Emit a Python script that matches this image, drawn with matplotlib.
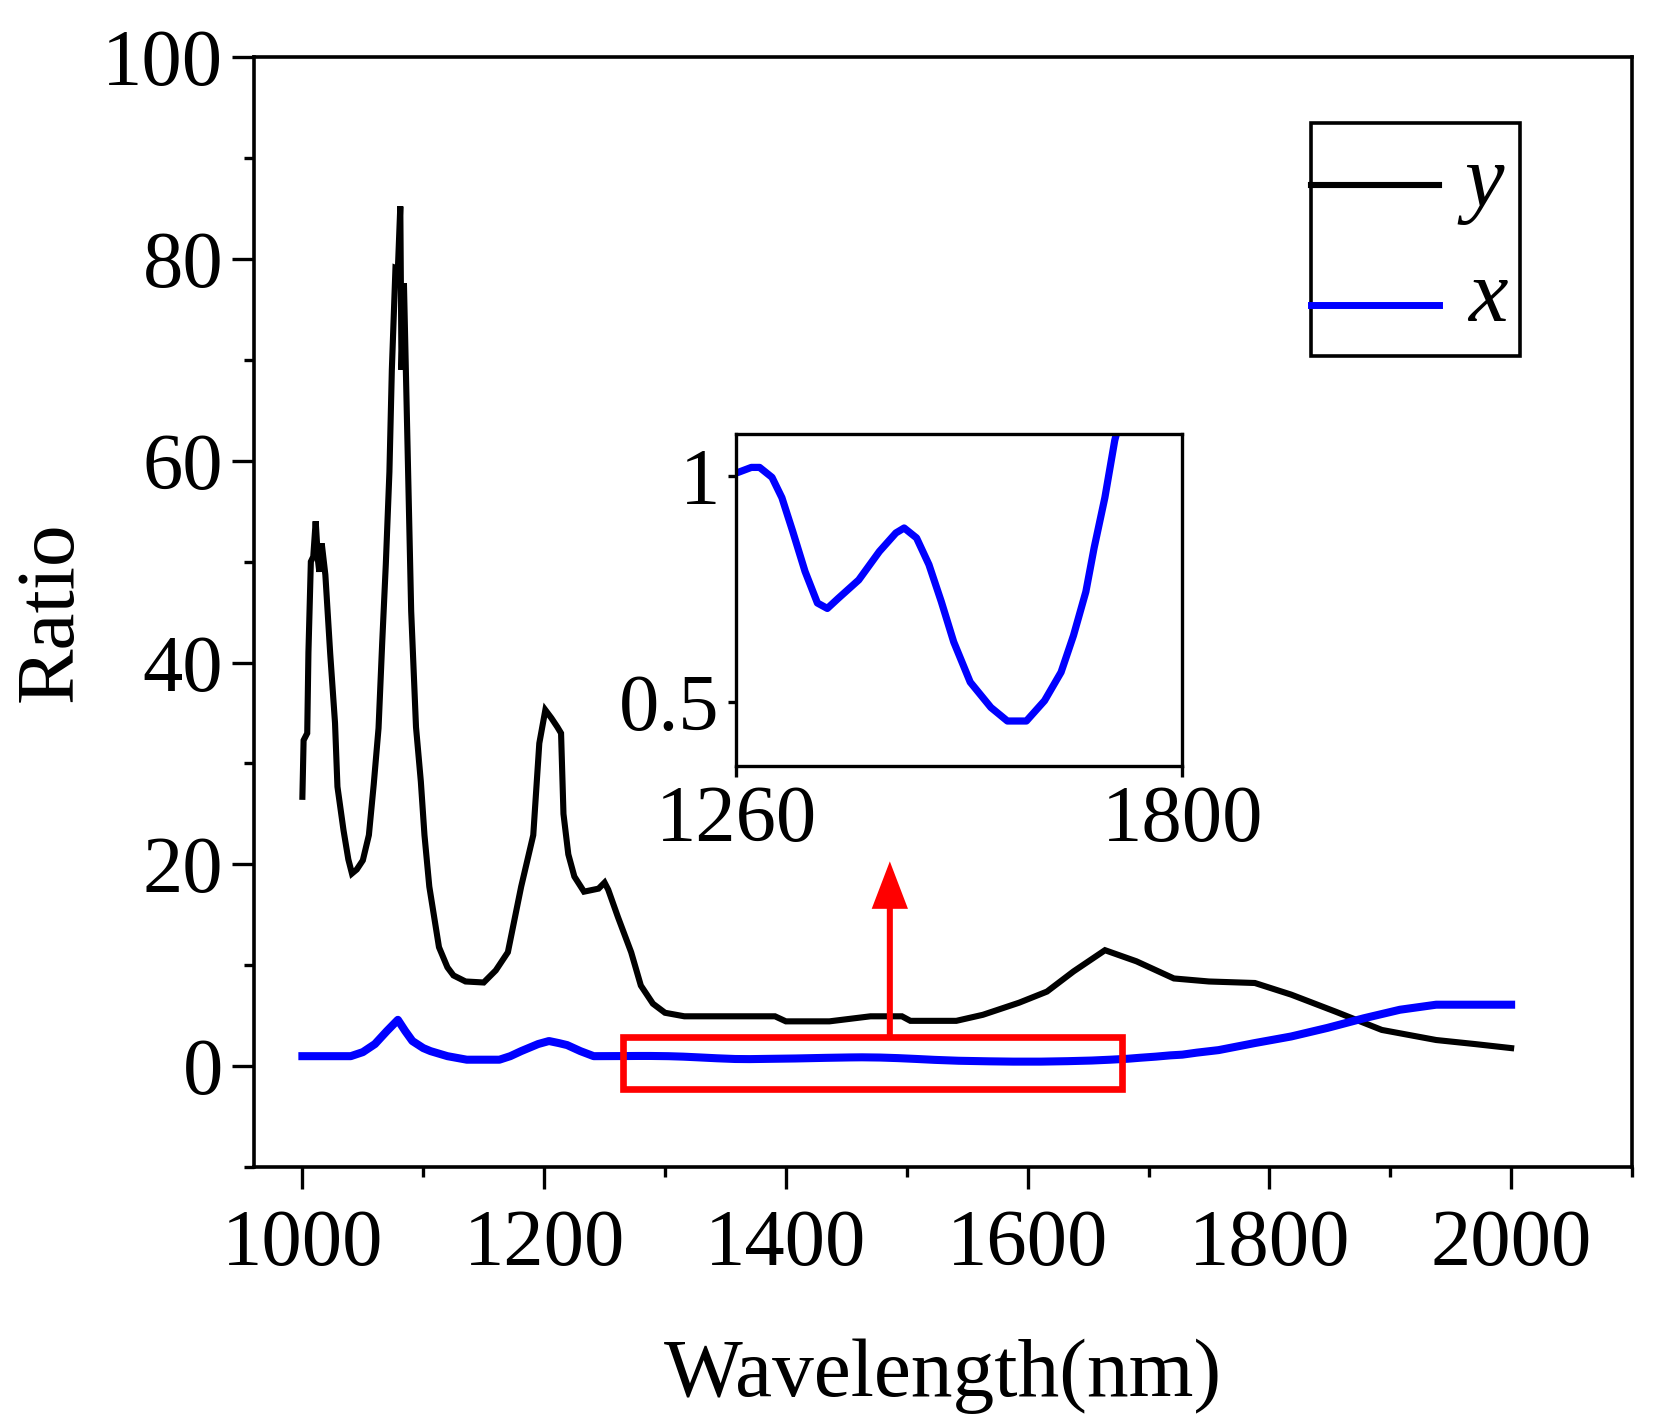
import matplotlib
matplotlib.use("Agg")
from matplotlib import pyplot as plt
from matplotlib.patches import Rectangle
from matplotlib.lines import Line2D
from matplotlib.ticker import MultipleLocator

plt.rcParams['font.family'] = ['Liberation Serif', 'DejaVu Serif']

# ratio y (black curve)
wl_y = [1000, 1001, 1004, 1005, 1007, 1009, 1011, 1013, 1014, 1016, 1019, 1023,
        1027, 1029, 1034, 1038, 1041, 1045, 1050, 1055, 1059, 1063, 1066, 1069,
        1072, 1074, 1077, 1079, 1081, 1082, 1084, 1087, 1090, 1094, 1098, 1101,
        1105, 1113, 1120, 1125, 1135, 1150, 1160, 1170, 1181, 1191, 1196, 1201,
        1206, 1211, 1214, 1216, 1220, 1225, 1233, 1245, 1250, 1253, 1261, 1272,
        1280, 1290, 1300, 1316, 1350, 1391, 1400, 1436, 1470, 1496, 1503, 1541,
        1563, 1593, 1616, 1638, 1664, 1690, 1721, 1750, 1788, 1818, 1855, 1893,
        1938, 1970, 2000]
ratio_y = [26.7, 32.3, 33.0, 41.0, 50.0, 50.5, 54.0, 50.0, 49.0, 51.8, 48.7, 40.9,
           34.0, 27.7, 23.4, 20.5, 19.1, 19.5, 20.4, 22.9, 27.9, 33.5, 41.9, 49.7,
           58.9, 69.0, 79.1, 79.0, 85.2, 69.0, 77.6, 61.4, 45.1, 33.6, 28.2, 22.9,
           17.8, 11.8, 9.8, 9.0, 8.4, 8.3, 9.5, 11.3, 17.8, 22.9, 32.0, 35.3,
           34.5, 33.6, 33.0, 25.0, 21.0, 18.8, 17.3, 17.6, 18.2, 17.5, 14.8, 11.3,
           8.0, 6.2, 5.3, 4.95, 4.95, 4.95, 4.45, 4.45, 4.95, 4.95, 4.5, 4.5,
           5.1, 6.3, 7.4, 9.4, 11.5, 10.4, 8.7, 8.4, 8.25, 7.1, 5.4, 3.6,
           2.6, 2.2, 1.8]

# ratio x (blue curve)
wl_x = [1000, 1040, 1050, 1060, 1070, 1079, 1085, 1091, 1100, 1106, 1120, 1136,
        1163, 1172, 1181, 1195, 1204, 1212, 1219, 1230, 1241, 1262, 1278, 1288,
        1303, 1315, 1328, 1343, 1358, 1370, 1383, 1408, 1433, 1453, 1463, 1478,
        1493, 1508, 1523, 1543, 1568, 1588, 1611, 1633, 1653, 1668, 1683, 1693,
        1706, 1718, 1728, 1740, 1758, 1788, 1818, 1848, 1878, 1908, 1938, 1970,
        2000]
ratio_x = [1.0, 1.0, 1.4, 2.2, 3.5, 4.6, 3.5, 2.5, 1.8, 1.5, 1.0, 0.65,
           0.65, 1.0, 1.5, 2.2, 2.5, 2.3, 2.1, 1.5, 1.0, 1.009, 1.02, 1.02,
           0.998, 0.953, 0.879, 0.79, 0.72, 0.708, 0.73, 0.771, 0.834, 0.875, 0.886, 0.864,
           0.805, 0.723, 0.634, 0.545, 0.489, 0.459, 0.459, 0.504, 0.567, 0.648, 0.745, 0.842,
           0.953, 1.08, 1.15, 1.35, 1.6, 2.3, 2.95, 3.8, 4.75, 5.6, 6.1, 6.1,
           6.1]

# zoomed region marker and arrow
box_x = (1265, 1678)
box_y = (-2.3, 2.9)
arrow_x = 1486
arrow_top = 20.3

inset_xticks = [1260, 1800]
inset_yticks = [0.5, 1]

fig = plt.figure(figsize=(16.55, 14.26), dpi=100)
ax = fig.add_axes([0.1535, 0.1815, 0.8326, 0.7785])

ax.plot(wl_y, ratio_y, color='black', lw=4.4, solid_joinstyle='miter')
ax.plot(wl_x, ratio_x, color='blue', lw=5.8)

ax.add_patch(Rectangle((box_x[0], box_y[0]), box_x[1] - box_x[0], box_y[1] - box_y[0],
                       fill=False, edgecolor='red', lw=4.8, zorder=5))
ax.arrow(arrow_x, box_y[1], 0, arrow_top - box_y[1], width=5.0, head_width=30,
         head_length=4.7, length_includes_head=True, color='red', lw=0, zorder=5)

ax.set_xlim(960, 2100)
ax.set_ylim(-10, 100)
ax.xaxis.set_major_locator(MultipleLocator(200))
ax.xaxis.set_minor_locator(MultipleLocator(100))
ax.yaxis.set_major_locator(MultipleLocator(20))
ax.yaxis.set_minor_locator(MultipleLocator(10))
ax.tick_params(which='both', direction='out', width=2.4, labelsize=58, top=False, right=False)
ax.tick_params(which='major', length=16)
ax.tick_params(which='minor', length=7)
ax.tick_params(axis='x', pad=14)
ax.tick_params(axis='y', pad=6)
for s in ax.spines.values():
    s.set_linewidth(2.6)

ax.set_xlabel('Wavelength(nm)', fontsize=60)
ax.set_ylabel('Ratio', fontsize=60)
ax.xaxis.set_label_coords(0.5, -0.188)
ax.yaxis.set_label_coords(-0.147, 0.5)
ax.xaxis.label.set_va('center')
ax.yaxis.label.set_va('center')

# legend drawn in the Origin style: handle lines touch the left frame edge
ax.add_patch(Rectangle((0.767, 0.731), 0.152, 0.210, transform=ax.transAxes,
                       fill=False, edgecolor='black', lw=2.6, zorder=6))
ax.add_line(Line2D([0.767, 0.860], [0.885, 0.885], transform=ax.transAxes,
                   color='black', lw=4.4, zorder=6))
ax.add_line(Line2D([0.767, 0.860], [0.777, 0.777], transform=ax.transAxes,
                   color='blue', lw=5.0, zorder=6))
ax.text(0.907, 0.866, 'y', transform=ax.transAxes, fontsize=64, style='italic',
        ha='right', va='baseline')
ax.text(0.910, 0.762, 'x', transform=ax.transAxes, fontsize=64, style='italic',
        ha='right', va='baseline')

# inset
axin = fig.add_axes([0.445, 0.463, 0.2695, 0.233])
axin.plot(wl_x, ratio_x, color='blue', lw=5.2)
axin.set_xlim(1260, 1800)
axin.set_ylim(0.36, 1.095)
axin.set_xticks(inset_xticks)
axin.set_yticks(inset_yticks)
axin.set_yticklabels(['0.5', '1'])
axin.tick_params(direction='out', width=2.4, labelsize=58, top=False, right=False)
axin.tick_params(axis='x', length=8, pad=6)
axin.tick_params(axis='y', length=6, pad=6)
for s in axin.spines.values():
    s.set_linewidth(2.4)

fig.savefig('out.png', dpi=100)
